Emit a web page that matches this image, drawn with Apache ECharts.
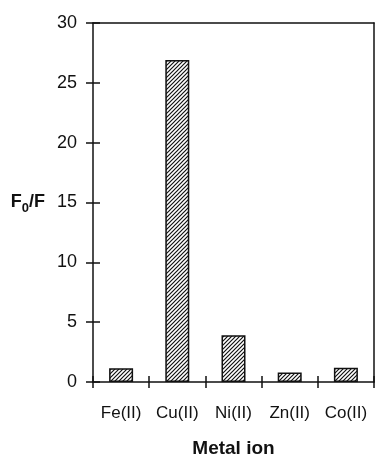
<!DOCTYPE html>
<html>
<head>
<meta charset="utf-8">
<script src="https://cdn.jsdelivr.net/npm/echarts@6/dist/echarts.min.js"></script>
<style>
  html, body { margin: 0; padding: 0; background: #fff; }
  #chart { width: 377px; height: 458px; }
</style>
</head>
<body>
<div id="chart"></div>
<script>
// Fluorescence quenching ratio per metal ion
const categories = ['Fe(II)', 'Cu(II)', 'Ni(II)', 'Zn(II)', 'Co(II)'];
const quenchRatio = [1.15, 26.9, 3.9, 0.8, 1.2];
const yMin = 0, yMax = 30, yStep = 5;

const FONT = '"Liberation Sans", Arial, Helvetica, sans-serif';

// Diagonal hatch fill for the bars
function hatchPattern() {
  const c = document.createElement('canvas');
  const s = 4;
  c.width = s; c.height = s;
  const g = c.getContext('2d');
  g.fillStyle = '#fff';
  g.fillRect(0, 0, s, s);
  g.strokeStyle = '#111';
  g.lineWidth = 1.2;
  g.beginPath();
  g.moveTo(0, s); g.lineTo(s, 0);
  g.moveTo(-1, 1); g.lineTo(1, -1);
  g.moveTo(s - 1, s + 1); g.lineTo(s + 1, s - 1);
  g.stroke();
  return c;
}

const axisLineStyle = { color: '#111', width: 1.5 };

const chart = echarts.init(document.getElementById('chart'), null, { renderer: 'canvas' });
chart.setOption({
  animation: false,
  backgroundColor: '#fff',
  grid: { left: 93, right: 3, top: 23, bottom: 76, containLabel: false, outerBoundsMode: 'none' },
  xAxis: [
    {
      type: 'category', data: categories, position: 'bottom',
      axisLine: { show: true, onZero: false, lineStyle: axisLineStyle },
      axisTick: { show: true, inside: false, length: 6, lineStyle: axisLineStyle },
      axisLabel: { color: '#111', fontFamily: FONT, fontSize: 17, margin: 23 },
      name: 'Metal ion', nameLocation: 'middle', nameGap: 57,
      nameTextStyle: { color: '#111', fontFamily: FONT, fontSize: 19, fontWeight: 'bold' }
    },
    {
      // tick marks reaching into the plot
      type: 'category', data: categories, position: 'bottom', offset: -6,
      axisLine: { show: false, onZero: false },
      axisTick: { show: true, inside: false, length: 6, lineStyle: axisLineStyle },
      axisLabel: { show: false }
    },
    {
      type: 'category', data: categories, position: 'top',
      axisLine: { show: true, onZero: false, lineStyle: axisLineStyle },
      axisTick: { show: false }, axisLabel: { show: false }
    }
  ],
  yAxis: [
    {
      type: 'value', min: yMin, max: yMax, interval: yStep, position: 'left',
      splitLine: { show: false },
      axisLine: { show: true, onZero: false, lineStyle: axisLineStyle },
      axisTick: { show: true, inside: false, length: 7, lineStyle: axisLineStyle },
      axisLabel: { color: '#111', fontFamily: FONT, fontSize: 18, margin: 16 },
      name: '{b|F}{s|0}{b|/F}', nameLocation: 'middle', nameRotate: 0, nameGap: 48,
      nameTextStyle: {
        rich: {
          b: { fontFamily: FONT, fontSize: 18, fontWeight: 'bold', color: '#111' },
          s: { fontFamily: FONT, fontSize: 13, fontWeight: 'bold', color: '#111', padding: [12, 0, 0, 0] }
        }
      }
    },
    {
      // tick marks reaching into the plot
      type: 'value', min: yMin, max: yMax, interval: yStep, position: 'left', offset: -7,
      splitLine: { show: false },
      axisLine: { show: false, onZero: false },
      axisTick: { show: true, inside: false, length: 7, lineStyle: axisLineStyle },
      axisLabel: { show: false }
    },
    {
      type: 'value', min: yMin, max: yMax, interval: yStep, position: 'right',
      splitLine: { show: false },
      axisLine: { show: true, onZero: false, lineStyle: axisLineStyle },
      axisTick: { show: false }, axisLabel: { show: false }
    }
  ],
  series: [{
    type: 'bar',
    xAxisIndex: 0, yAxisIndex: 0,
    data: quenchRatio,
    barWidth: 24,
    itemStyle: {
      color: { image: hatchPattern(), repeat: 'repeat' },
      borderColor: '#111', borderWidth: 1.5
    }
  }]
});
</script>
</body>
</html>
